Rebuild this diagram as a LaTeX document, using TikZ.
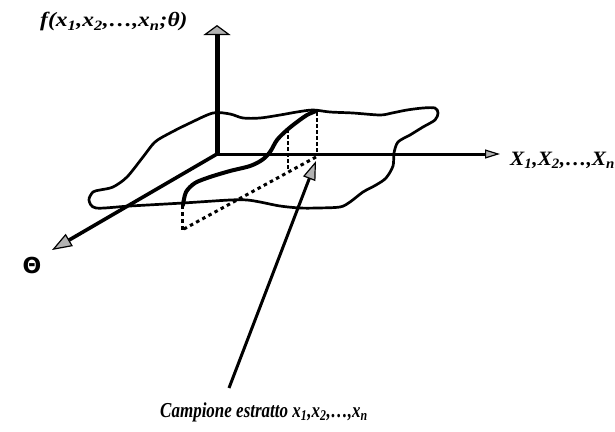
\documentclass[tikz,border=0pt]{standalone}
\usepackage{fontspec}
\setmainfont{Liberation Serif}
\newfontfamily\thetafont{DejaVu Sans}
\usetikzlibrary{arrows.meta}
\begin{document}
\begin{tikzpicture}[x=1pt,y=-1pt,
  outline/.style={line width=2.7pt, line join=round, line cap=round},
  thickcurve/.style={line width=4pt, line join=round, line cap=round},
  dotline/.style={line width=3pt, dash pattern=on 3.5pt off 3.5pt},
  dashline/.style={line width=2pt, dash pattern=on 3.5pt off 2.5pt},
  lbl/.style={font=\fontsize{17}{20}\selectfont\bfseries\itshape, inner sep=0pt}]
\useasboundingbox (0,0) rectangle (615,431);
\clip (0,0) rectangle (615,431);
\fill[white] (0,0) rectangle (615,431);

% coordinates
\coordinate (O) at (217,154);
\coordinate (ftop) at (217,25);
\coordinate (xend) at (500,154);
\coordinate (tend) at (52,250);
\coordinate (pbase) at (229,388);
\coordinate (ptip) at (316,161);
\coordinate (a1) at (317,112);
\coordinate (a2) at (317,155);
\coordinate (b1) at (288,129);
\coordinate (b2) at (288,171);
\coordinate (c1) at (316,157);
\coordinate (c2) at (182,230);
\coordinate (d1) at (182,205);

% surface outline
\draw[outline] plot[smooth cycle, tension=0.5] coordinates {
 (89,200) (93,192) (100,190) (113,187) (127,177) (143,157) (155,142) (170,133)
 (190,123) (213,113) (230,114) (243,118) (260,118) (280,115) (297,112)
 (313,110) (330,112) (353,113) (380,115) (392,113) (407,110) (423,108)
 (435,108) (438,113) (435,120) (423,127) (410,135) (398,142) (394,153)
 (393,166) (386,178) (376,185) (363,192) (350,202) (340,207) (317,208)
 (300,208) (280,206) (260,202) (247,200) (230,200) (183,203) (130,206) (96,208)};

% section curve
\draw[thickcurve] plot[smooth, tension=0.5] coordinates {
 (183,205) (186,192) (195,183) (210,177) (230,171) (250,166) (262,160)
 (270,152) (277,140) (287,130) (297,122) (307,115) (316,111)};

% dotted / dashed construction lines
\draw[dashline] (a1) -- (a2);
\draw[dashline] (b1) -- (b2);
\draw[dotline] (c1) -- (c2);
\draw[dotline] (d1) -- (c2);

% axes
\draw[line width=5pt, -{Triangle[length=10pt, width=27pt, line width=1.2pt, color=black, fill=gray!60]}] (O) -- (ftop);
\draw[line width=3pt, -{Triangle[length=15pt, width=9pt, line width=1.2pt, color=black, fill=gray!60]}] (O) -- (xend);
\draw[line width=3.6pt, -{Triangle[length=20pt, width=14pt, line width=1.2pt, color=black, fill=gray!60]}] (O) -- (tend);

% pointer
\draw[line width=3pt, -{Triangle[length=19pt, width=13pt, line width=1.2pt, color=black, fill=gray!60]}] (pbase) -- (ptip);

% labels
\node[lbl, anchor=base west] (flabel) at (40,27) {\scalebox{1.38}[1.2]{f(x\textsubscript{1},x\textsubscript{2},\ldots,x\textsubscript{n};θ)}};
\node[lbl, anchor=base west] (xlabel) at (510,165) {\scalebox{1.25}[1.2]{X\textsubscript{1},X\textsubscript{2},\ldots,X\textsubscript{n}}};
\node[font=\fontsize{22}{24}\selectfont\thetafont\bfseries, inner sep=0pt] (tlabel) at (32,265) {Θ};
\node[lbl, anchor=base west] (clabel) at (160,417) {\scalebox{1}[1.25]{Campione estratto x\textsubscript{1},x\textsubscript{2},\ldots,x\textsubscript{n}}};
\end{tikzpicture}
\end{document}
